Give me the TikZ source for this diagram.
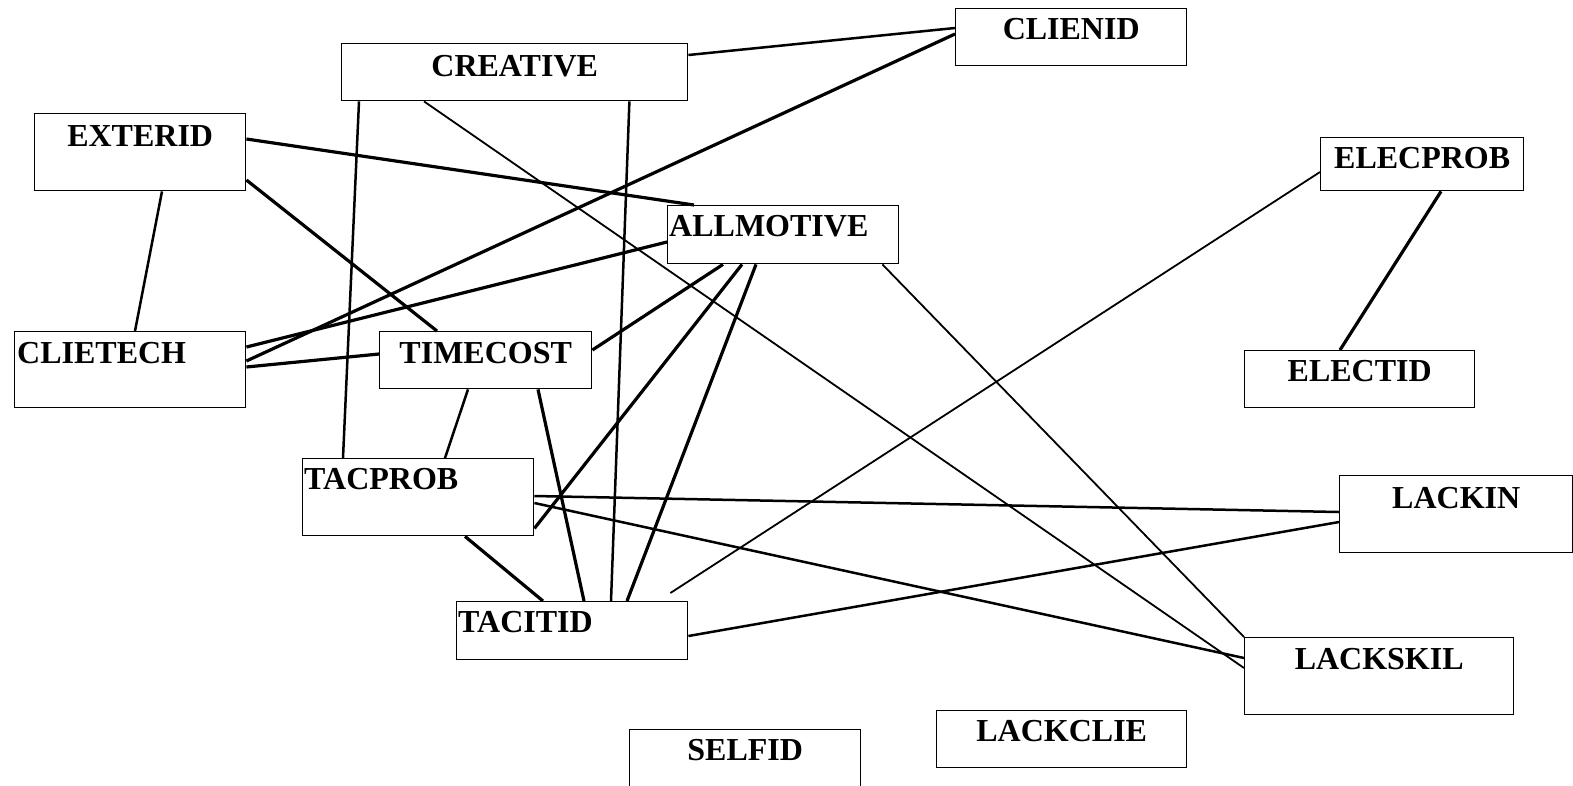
\documentclass[tikz,border=0pt]{standalone}
\usepackage{fontspec}
\setmainfont{Liberation Serif}
\usetikzlibrary{positioning}

\tikzset{
  box/.style={draw, line width=1.4pt, fill=white, inner sep=0pt, anchor=north west},
  lbl/.style={inner sep=0pt, font=\fontsize{32}{36}\selectfont\bfseries},
  wlink/.style={line width=1.8pt},
  mlink/.style={line width=2.5pt},
  slink/.style={line width=3.2pt},
}

\begin{document}
\begin{tikzpicture}[x=1pt,y=-1pt]
  \useasboundingbox (0,0) rectangle (1573,785);

  % boxes
  \node[box, minimum width=231, minimum height=57] (clienid) at (955,8) {};
  \node[box, minimum width=346, minimum height=57] (creative) at (341,43) {};
  \node[box, minimum width=211, minimum height=77] (exterid) at (34,113) {};
  \node[box, minimum width=203, minimum height=53] (elecprob) at (1320,137) {};
  \node[box, minimum width=231, minimum height=58] (allmotive) at (667,205) {};
  \node[box, minimum width=231, minimum height=76] (clietech) at (14,331) {};
  \node[box, minimum width=212, minimum height=57] (timecost) at (379,331) {};
  \node[box, minimum width=230, minimum height=57] (electid) at (1244,350) {};
  \node[box, minimum width=231, minimum height=77] (tacprob) at (302,458) {};
  \node[box, minimum width=233, minimum height=77] (lackin) at (1339,475) {};
  \node[box, minimum width=231, minimum height=58] (tacitid) at (456,601) {};
  \node[box, minimum width=269, minimum height=77] (lackskil) at (1244,637) {};
  \node[box, minimum width=250, minimum height=57] (lackclie) at (936,710) {};
  \node[box, minimum width=231, minimum height=62] (selfid) at (629,729) {};

  % labels
  \node[lbl, below=10pt of clienid.north] (clienidt) {CLIENID};
  \node[lbl, below=12pt of creative.north] (creativet) {CREATIVE};
  \node[lbl, below=12pt of exterid.north] (exteridt) {EXTERID};
  \node[lbl, below=10pt of elecprob.north] (elecprobt) {ELECPROB};
  \node[lbl, below right=10pt and 2pt of allmotive.north west] (allmotivet) {ALLMOTIVE};
  \node[lbl, below right=11pt and 3pt of clietech.north west] (clietecht) {CLIETECH};
  \node[lbl, below=11pt of timecost.north] (timecostt) {TIMECOST};
  \node[lbl, below=10pt of electid.north] (electidt) {ELECTID};
  \node[lbl, below right=10pt and 2pt of tacprob.north west] (tacprobt) {TACPROB};
  \node[lbl, below=12pt of lackin.north] (lackint) {LACKIN};
  \node[lbl, below right=10pt and 2pt of tacitid.north west] (taciditt) {TACITID};
  \node[lbl, below=11pt of lackskil.north] (lackskilt) {LACKSKIL};
  \node[lbl, below=10pt of lackclie.north] (lackcliet) {LACKCLIE};
  \node[lbl, below=10pt of selfid.north] (selfidt) {SELFID};

  \coordinate (elecend) at ([xshift=-18pt,yshift=8pt]tacitid.north east);

  % links
  \draw[mlink] ([yshift=-12pt]creative.north east) -- ([yshift=-20pt]clienid.north west);
  \draw[slink] ([yshift=-30pt]clietech.north east) -- ([yshift=-26pt]clienid.north west);
  \draw[mlink] ([xshift=18pt]creative.south west) -- ([xshift=41pt]tacprob.north west);
  \draw[mlink] ([xshift=-59pt]creative.south east) -- ([xshift=155pt]tacitid.north west);
  \draw[wlink] ([xshift=83pt]creative.south west) -- ([yshift=-31pt]lackskil.north west);
  \draw[slink] ([yshift=-26pt]exterid.north east) -- ([xshift=27pt]allmotive.north west);
  \draw[slink] ([yshift=-67pt]exterid.north east) -- ([xshift=58pt]timecost.north west);
  \draw[mlink] ([xshift=128pt]exterid.south west) -- ([xshift=121pt]clietech.north west);
  \draw[slink] ([yshift=-36pt]clietech.north east) -- ([yshift=-23pt]timecost.north west);
  \draw[slink] ([yshift=-16pt]clietech.north east) -- ([yshift=-37pt]allmotive.north west);
  \draw[slink] ([yshift=-19pt]timecost.north east) -- ([xshift=56pt]allmotive.south west);
  \draw[mlink] ([xshift=89pt]timecost.south west) -- ([xshift=143pt]tacprob.north west);
  \draw[slink] ([xshift=159pt]timecost.south west) -- ([xshift=128pt]tacitid.north west);
  \draw[slink] ([xshift=75pt]allmotive.south west) -- ([yshift=8pt]tacprob.south east);
  \draw[slink] ([xshift=89pt]allmotive.south west) -- ([xshift=171pt]tacitid.north west);
  \draw[wlink] ([xshift=-17pt]allmotive.south east) -- (lackskil.north west);
  \draw[wlink] ([yshift=-35pt]elecprob.north west) -- (elecend);
  \draw[slink] ([xshift=121pt]elecprob.south west) -- ([xshift=96pt]electid.north west);
  \draw[mlink] ([yshift=-38pt]tacprob.north east) -- ([yshift=-37pt]lackin.north west);
  \draw[mlink] ([yshift=-45pt]tacprob.north east) -- ([yshift=-21pt]lackskil.north west);
  \draw[slink] ([xshift=163pt]tacprob.south west) -- ([xshift=87pt]tacitid.north west);
  \draw[mlink] ([yshift=-35pt]tacitid.north east) -- ([yshift=-47pt]lackin.north west);
\end{tikzpicture}
\end{document}
